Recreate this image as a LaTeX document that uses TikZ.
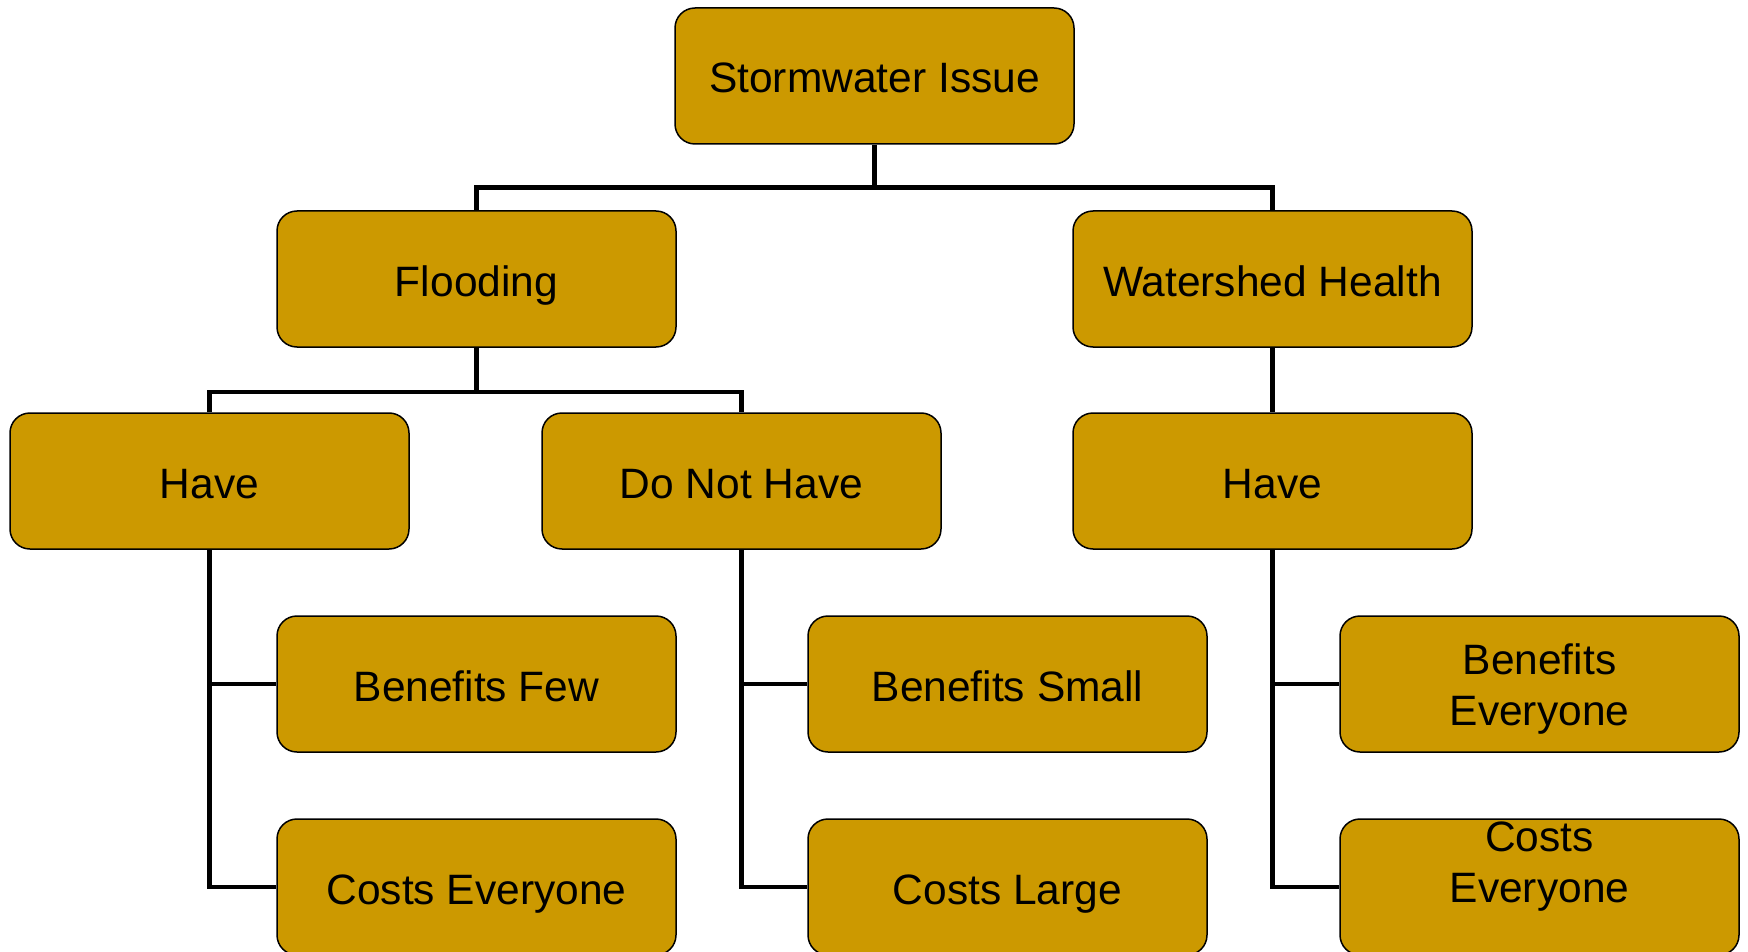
\documentclass[tikz,border=0pt]{standalone}
\usepackage{fontspec}
\setmainfont{Liberation Sans}
\definecolor{boxfill}{HTML}{CC9900}
\begin{document}
\begin{tikzpicture}[x=1pt,y=-1pt,
  box/.style={draw=black, line width=1.5pt, fill=boxfill, rounded corners=20pt,
    minimum width=399pt, minimum height=136pt, inner sep=0pt,
    font=\fontsize{42.5}{51}\selectfont},
  one/.style={text height=34pt, text depth=0pt},
  multi/.style={align=center, font=\fontsize{42.5}{51}\selectfont},
  conn/.style={draw=black, line width=4.5pt}]
\useasboundingbox (0,0) rectangle (1748,952);
% row 0
\node[box,one] (top) at (874.5,76) {Stormwater Issue};
% row 1
\node[box,one] (flood) at (476.5,279) {Flooding};
\node[box,one] (wsh) at (1272.5,279) {Watershed Health};
% row 2
\node[box,one] (have1) at (209.5,481) {Have};
\node[box,one] (dnh) at (741.5,481) {Do Not Have};
\node[box,one] (have2) at (1272.5,481) {Have};
% row 3
\node[box,one] (bf1) at (476.5,684) {Benefits Few};
\node[box,one] (bs) at (1007.5,684) {Benefits Small};
\node[box] (be) at (1539.5,684) {};
\node[multi] (bet) at (1539.5,689) {Benefits\\Everyone};
% row 4
\node[box,one] (ce1) at (476.5,887) {Costs Everyone};
\node[box,one] (cl) at (1007.5,887) {Costs Large};
\node[box] (ce2) at (1539.5,887) {};
\node[multi] (ce2t) at (1539.5,867) {Costs\\Everyone};
% connectors
\draw[conn] (top.south) -- ++(0,43) coordinate (b1);
\draw[conn] (flood.north) |- (b1) -| (wsh.north);
\draw[conn] (flood.south) -- ++(0,44) coordinate (b2);
\draw[conn] (have1.north) |- (b2) -| (dnh.north);
\draw[conn] (wsh.south) -- (have2.north);
\draw[conn] (have1.south) |- (ce1.west);
\draw[conn] (have1.south |- bf1.west) -- (bf1.west);
\draw[conn] (dnh.south) |- (cl.west);
\draw[conn] (dnh.south |- bs.west) -- (bs.west);
\draw[conn] (have2.south) |- (ce2.west);
\draw[conn] (have2.south |- be.west) -- (be.west);
\end{tikzpicture}
\end{document}
